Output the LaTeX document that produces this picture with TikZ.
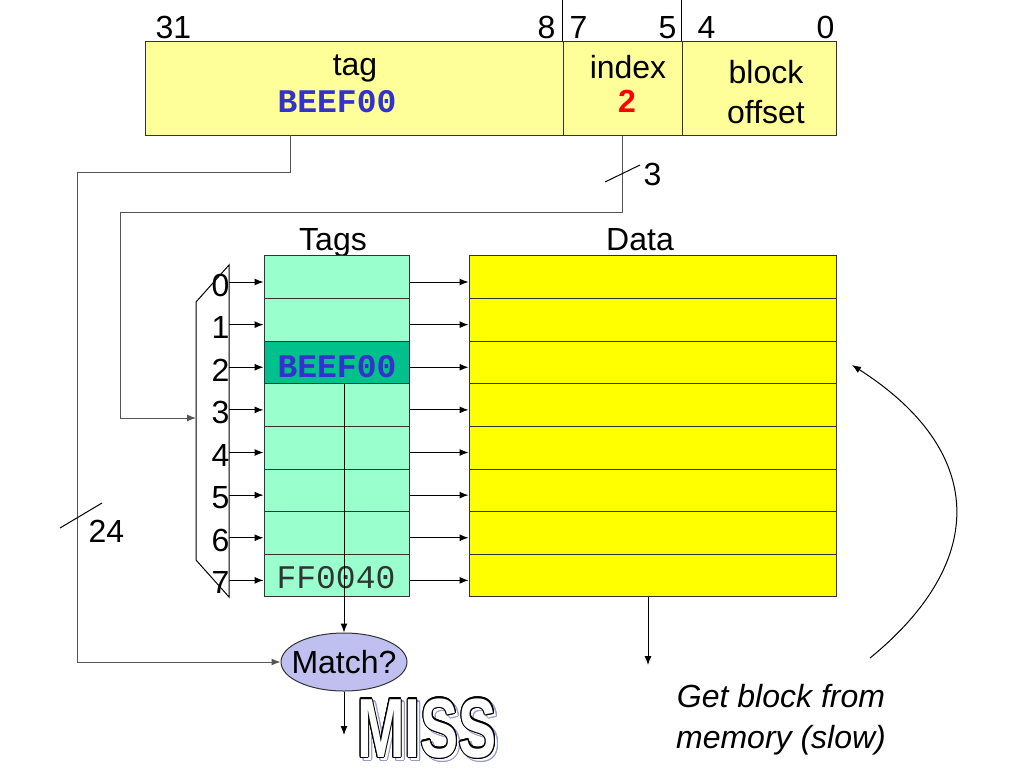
\documentclass[tikz,border=0pt]{standalone}
\usepackage{fontspec}
\setmainfont{Liberation Sans}
\setmonofont{Liberation Mono}
\usepackage{xcolor}
\usepackage{graphicx}
\usepackage{contour}
\usetikzlibrary{arrows.meta}
\usetikzlibrary{shapes.geometric}

\definecolor{addrgelb}{HTML}{FFFF99}
\definecolor{taggruen}{HTML}{99FFCC}
\definecolor{trefgruen}{HTML}{00C08C}
\definecolor{datagelb}{HTML}{FFFF00}
\definecolor{matchlila}{HTML}{C0C0F0}
\definecolor{schattenlila}{HTML}{9999CC}
\definecolor{beefblau}{HTML}{3333CC}
\definecolor{drahtgrau}{HTML}{555555}

\newcommand{\groesse}[1]{\fontsize{#1}{#1}\selectfont}
\contourlength{1.3pt}
\newcommand{\misswort}[1]{\scalebox{0.68}[1]{\groesse{84}\bfseries\contour{#1}{\textcolor{white}{MISS}}}}

\tikzset{
  feld/.style={draw=black!80, fill=addrgelb, minimum height=93pt, inner sep=0pt},
  tagzeile/.style={draw=black!80, minimum width=145pt, minimum height=42.625pt, inner sep=0pt},
  datazeile/.style={draw=black!80, fill=datagelb, minimum width=367pt, minimum height=42.625pt, inner sep=0pt},
  txt/.style={inner sep=0pt, anchor=base, font={\groesse{32}}},
  hexwert/.style={inner sep=0pt, anchor=base, font={\groesse{33}\ttfamily}},
  draht/.style={draw=drahtgrau},
}

\begin{document}
\begin{tikzpicture}[x=1pt, y=-1pt, line width=1pt, >={Latex[length=9pt,width=7pt]}]
\useasboundingbox (0,0) rectangle (1024,768);

% Adresse: tag | index | block offset
\node[feld, minimum width=418pt] (tagf) at (354,88.5) {};
\node[feld, minimum width=119pt] (idxf) at (622.5,88.5) {};
\node[feld, minimum width=154pt] (offf) at (759,88.5) {};
\draw (idxf.north west) -- ++(0,-42);
\draw (offf.north west) -- ++(0,-42);

\node[txt, anchor=base west] (b31) at (155,38) {31};
\node[txt, anchor=base east] (b8) at (556,38) {8};
\node[txt, anchor=base west] (b7) at (569,38) {7};
\node[txt, anchor=base east] (b5) at (677,38) {5};
\node[txt, anchor=base west] (b4) at (697,38) {4};
\node[txt, anchor=base east] (b0) at (835,38) {0};

\node[txt] (tagname) at (355,75) {tag};
\node[hexwert, font={\groesse{33}\ttfamily\bfseries}, text=beefblau] (tagwert) at (337,112) {BEEF00};
\node[txt] (idxname) at (628,78) {index};
\node[txt, font={\groesse{32}\bfseries}, text=red] (idxwert) at (627,112) {2};
\node[txt] (offname1) at (766,83) {block};
\node[txt] (offname2) at (766,123) {offset};

% Decoder
\draw (196,302) -- (229,265) -- (229,597) -- (196,560) -- cycle;
\coordinate (decin) at (196,418);

% Tags und Data
\node[txt] (tagstitel) at (333,250) {Tags};
\node[txt] (datatitel) at (640,250) {Data};
\foreach \i/\farbe in {0/taggruen,1/taggruen,2/trefgruen,3/taggruen,4/taggruen,5/taggruen,6/taggruen,7/taggruen} {
  \node[tagzeile, fill=\farbe] (t\i) at (336.5,277.3+42.625*\i) {};
  \node[datazeile] (d\i) at (652.5,277.3+42.625*\i) {};
  \coordinate (dec\i) at (229,282+42.625*\i);
  \draw[->] (dec\i) -- (dec\i -| t\i.west);
  \draw[->] (dec\i -| t\i.east) -- (dec\i -| d\i.west);
  \node[txt, anchor=base east] (n\i) at (230,296+42.5*\i) {\i};
}
\node[hexwert, font={\groesse{33}\ttfamily\bfseries}, text=beefblau] (tagtreffer) at (337,377) {BEEF00};
\node[hexwert, text=black!80] (tagalt) at (336,588) {FF0040};

% Vergleich
\node[ellipse, draw=black!80, fill=matchlila, minimum width=126pt, minimum height=58pt, inner sep=0pt, font={\groesse{32}}] (match) at (344,662) {\makebox[0pt]{Match?}};
\draw[->] (t2.south -| match.north) -- (match.north);
\coordinate (missein) at (344,735);
\draw[->] (match.south) -- (missein);

% Leitungen von der Adresse
\coordinate (tagaus) at (290,135);
\draw[draht, ->] (tagaus) -- (290,172) -- (77,172) |- (match.west);
\draw (60,528) -- (102,503);
\node[txt, anchor=base west] (breite24) at (88,542) {24};
\draw[draht, ->] (idxf.south) |- (120,212) -- (120,418) -- (decin);
\draw (605,182) -- (640,165);
\node[txt, anchor=base west] (breite3) at (643,185) {3};

% Daten und Speicher
\coordinate (datenaus) at (648,665);
\draw[->] (d7.south -| datenaus) -- (datenaus);
\coordinate (holen) at (870,658);
\coordinate (rueck) at (852,365);
\draw[->] (holen) .. controls (990,560) and (985,450) .. (rueck);
\node[txt, font={\groesse{32}\itshape}] (holtext1) at (781,707) {Get block from};
\node[txt, font={\groesse{32}\itshape}] (holtext2) at (781,748) {memory (slow)};

% MISS
\node[inner sep=0pt, anchor=base] (missschatten) at (430,760) {\misswort{schattenlila}};
\node[inner sep=0pt, anchor=base] (miss) at (427,757) {\misswort{black}};
\end{tikzpicture}
\end{document}
